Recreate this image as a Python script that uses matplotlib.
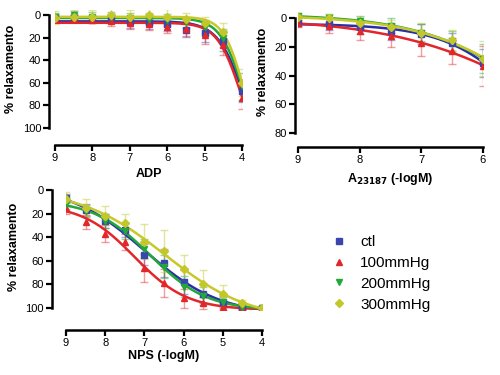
import numpy as np
import matplotlib
matplotlib.use("Agg")
import matplotlib.pyplot as plt
from matplotlib.lines import Line2D

plt.rcParams['font.family'] = ['Liberation Sans', 'DejaVu Sans']

# data (x = -logM, y = % relaxamento)
groups = ['ctl', '100mmHg', '200mmHg', '300mmHg']

adp_x = [9, 8.5, 8, 7.5, 7, 6.5, 6, 5.5, 5, 4.5, 4]
adp_y = {
    'ctl':     [2, 2, 3, 3, 6, 7, 8, 13, 16, 23, 67],
    '100mmHg': [3, 3, 4, 5, 7, 8, 10, 12, 17, 26, 73],
    '200mmHg': [1, 0, 1, 1, 2, 3, 4, 6, 10, 20, 63],
    '300mmHg': [2, 1, 1, 0, 1, 0, 1, 3, 7, 15, 60],
}
adp_err = {
    'ctl':     [3, 3, 3, 4, 5, 5, 6, 6, 8, 9, 10],
    '100mmHg': [3, 3, 3, 4, 5, 5, 6, 6, 8, 9, 10],
    '200mmHg': [3, 4, 4, 4, 4, 5, 5, 5, 6, 8, 12],
    '300mmHg': [6, 6, 6, 7, 6, 6, 7, 5, 6, 8, 12],
}

a23_x = [9, 8.5, 8, 7.5, 7, 6.5, 6]
a23_y = {
    'ctl':     [3, 4, 6, 9, 11, 17, 31],
    '100mmHg': [3, 5, 9, 12, 17, 23, 33],
    '200mmHg': [-2, 0, 2, 5, 10, 16, 28],
    '300mmHg': [-1, 0, 3, 6, 10, 15, 28],
}
a23_err = {
    'ctl':     [2, 4, 5, 6, 7, 7, 10],
    '100mmHg': [3, 5, 6, 8, 9, 9, 14],
    '200mmHg': [2, 3, 4, 5, 6, 7, 10],
    '300mmHg': [2, 3, 4, 5, 7, 7, 12],
}

nps_x = [9, 8.5, 8, 7.5, 7, 6.5, 6, 5.5, 5, 4.5, 4]
nps_y = {
    'ctl':     [7, 17, 26, 34, 55, 62, 78, 88, 95, 100, 100],
    '100mmHg': [15, 27, 37, 44, 66, 79, 92, 96, 99, 100, 100],
    '200mmHg': [12, 18, 26, 35, 50, 65, 82, 90, 95, 99, 100],
    '300mmHg': [8, 15, 22, 28, 44, 52, 67, 80, 88, 96, 100],
}
nps_err = {
    'ctl':     [4, 5, 6, 6, 9, 12, 10, 8, 5, 2, 1],
    '100mmHg': [5, 6, 7, 7, 12, 12, 8, 5, 3, 1, 1],
    '200mmHg': [4, 5, 6, 7, 8, 10, 9, 8, 4, 2, 1],
    '300mmHg': [6, 7, 8, 8, 15, 18, 12, 12, 7, 3, 1],
}

colors = {'ctl': '#3a46b0', '100mmHg': '#e3262a', '200mmHg': '#22a83a', '300mmHg': '#c3c72a'}
lines = {'ctl': '#2a2fa8', '100mmHg': '#e3262a', '200mmHg': '#22a83a', '300mmHg': '#c8c82a'}
markers = {'ctl': 's', '100mmHg': '^', '200mmHg': 'v', '300mmHg': 'D'}
msize = {'ctl': 5, '100mmHg': 5, '200mmHg': 5, '300mmHg': 4}


def fit_curve(x, y, top_max=130.0):
    # grid-search sigmoid fit, bottom/top solved by least squares
    x = np.asarray(x, float)
    y = np.asarray(y, float)
    best = None
    for p in np.linspace(2, 11, 361):
        for h in np.linspace(0.2, 3, 57):
            f = 1 / (1 + 10 ** (h * (x - p)))
            A = np.column_stack([1 - f, f])
            (b, t), *_ = np.linalg.lstsq(A, y, rcond=None)
            t = min(t, top_max)
            sse = np.sum((b * (1 - f) + t * f - y) ** 2)
            if best is None or sse < best[0]:
                best = (sse, b, t, p, h)
    _, b, t, p, h = best
    xs = np.linspace(x.min(), x.max(), 200)
    return xs, b + (t - b) / (1 + 10 ** (h * (xs - p)))


def panel(ax, xv, ydict, edict, ylim, yticks, xticks, xlabel, left_out, bottom_out, lpad=4):
    for g in groups:
        xs, ys = fit_curve(xv, ydict[g])
        ax.plot(xs, ys, color=lines[g], lw=1.8, zorder=3)
        ax.errorbar(xv, ydict[g], yerr=edict[g], fmt='none', ecolor=colors[g],
                    alpha=0.45, elinewidth=1, capsize=3, zorder=2)
        ax.plot(xv, ydict[g], linestyle='none', marker=markers[g], color=colors[g],
                markersize=msize[g], zorder=4)
    ax.set_xlim(max(xv), min(xv))
    ax.set_ylim(*ylim)
    ax.set_yticks(yticks)
    ax.set_xticks(xticks)
    for s in ['top', 'right']:
        ax.spines[s].set_visible(False)
    ax.spines['left'].set_bounds(min(yticks), max(yticks))
    ax.spines['left'].set_position(('outward', left_out))
    ax.spines['bottom'].set_position(('outward', bottom_out))
    for s in ['left', 'bottom']:
        ax.spines[s].set_linewidth(1.8)
    ax.tick_params(width=1.6, length=4, labelsize=8, pad=2)
    ax.set_xlabel(xlabel, fontsize=9, fontweight='bold', labelpad=lpad)
    ax.set_ylabel('% relaxamento', fontsize=9, fontweight='bold')


fig = plt.figure(figsize=(5, 3.75), dpi=100)

ax1 = fig.add_axes([0.11, 0.659, 0.374, 0.315])
panel(ax1, adp_x, adp_y, adp_err, (100, -5), [0, 20, 40, 60, 80, 100],
      [9, 8, 7, 6, 5, 4], 'ADP', 4, 12)

ax2 = fig.add_axes([0.596, 0.645, 0.37, 0.325])
panel(ax2, a23_x, a23_y, a23_err, (80, -5), [0, 20, 40, 60, 80],
      [9, 8, 7, 6], r'A$_{\mathbf{23187}}$ (-logM)', 2, 10)

ax3 = fig.add_axes([0.132, 0.173, 0.392, 0.336])
panel(ax3, nps_x, nps_y, nps_err, (102, -5), [0, 20, 40, 60, 80, 100],
      [9, 8, 7, 6, 5, 4], 'NPS (-logM)', 10, 14, lpad=1.5)

handles = [Line2D([], [], linestyle='none', marker=markers[g], color=colors[g],
                  markersize=msize[g]) for g in groups]
fig.legend(handles, groups, loc='upper left', bbox_to_anchor=(0.635, 0.41),
           frameon=False, fontsize=11, handlelength=1.0, handletextpad=0.9,
           labelspacing=0.45)

fig.savefig('out.png', dpi=100)
